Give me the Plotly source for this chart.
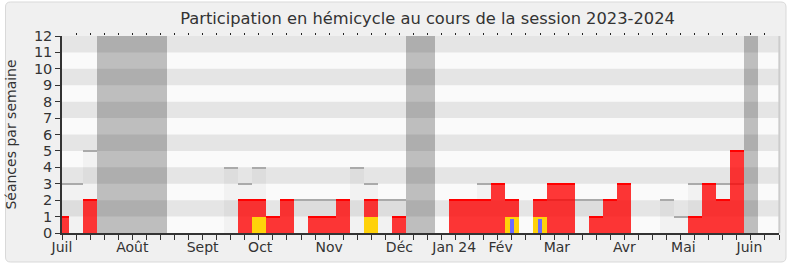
import plotly.graph_objects as go

# ---- data ----
weeks = list(range(52))
# grey bar: weekly sessions (reference level)
total = [3, 3, 5, 0, 0, 0, 0, 0, 0, 0, 0, 0, 4, 3, 4, 1, 2, 2, 2, 2,
         2, 4, 3, 2, 2, 0, 0, 0, 2, 2, 3, 3, 2, 0, 2, 2, 2, 2, 2, 2,
         3, 0, 0, 2, 1, 3, 3, 3, 3, 0, 0, 0]
# red bar: participation
participation = [1, 0, 2, 0, 0, 0, 0, 0, 0, 0, 0, 0, 0, 2, 2, 1, 2, 0, 1, 1,
                 2, 0, 2, 0, 1, 0, 0, 0, 2, 2, 2, 3, 2, 0, 2, 3, 3, 0, 1, 2,
                 3, 0, 0, 0, 0, 1, 3, 2, 5, 0, 0, 0]
yellow_weeks = [14, 22, 32, 34]
yellow_vals = [1, 1, 1, 1]
blue_weeks = [32, 34]
blue_vals = [0.85, 0.85]
vacation_weeks = [3, 4, 5, 6, 7, 25, 26, 49]
month_pos = [0, 5, 10, 14.1, 19, 24, 27.9, 31.2, 35.2, 40, 44.2, 48.9]
month_labels = ["Juil", "Août", "Sept", "Oct", "Nov", "Déc", "Jan 24", "Fév",
                "Mar", "Avr", "Mai", "Juin"]
y_ticks = list(range(13))
Y_MAX = 12

FONT = "DejaVu Sans"
TXT = "#333333"
LINE_T = 0.09  # thickness of top lines in data units

fig = go.Figure()

# vacation bands
fig.add_trace(go.Bar(x=vacation_weeks, y=[Y_MAX] * len(vacation_weeks), width=1,
                     marker=dict(color="rgba(0,0,0,0.24)", line=dict(width=0)),
                     hoverinfo="skip", showlegend=False))

# grey total bars
tw = [w for w, v in zip(weeks, total) if v > 0]
tv = [v for v in total if v > 0]
fig.add_trace(go.Bar(x=tw, y=tv, width=1,
                     marker=dict(color="rgba(0,0,0,0.03)", line=dict(width=0)),
                     showlegend=False))
fig.add_trace(go.Bar(x=tw, y=[LINE_T] * len(tv), base=[v - LINE_T / 2 for v in tv], width=1,
                     marker=dict(color="#aaaaaa", line=dict(width=0)),
                     hoverinfo="skip", showlegend=False))

# red participation bars
pw = [w for w, v in zip(weeks, participation) if v > 0]
pv = [v for v in participation if v > 0]
fig.add_trace(go.Bar(x=pw, y=pv, width=1,
                     marker=dict(color="rgba(255,0,0,0.78)", line=dict(width=0)),
                     showlegend=False))
fig.add_trace(go.Bar(x=pw, y=[LINE_T] * len(pv), base=[v - LINE_T / 2 for v in pv], width=1,
                     marker=dict(color="#ff0000", line=dict(width=0)),
                     hoverinfo="skip", showlegend=False))

# yellow and blue
fig.add_trace(go.Bar(x=yellow_weeks, y=yellow_vals, width=1,
                     marker=dict(color="#ffd20a", line=dict(width=0)), showlegend=False))
fig.add_trace(go.Bar(x=blue_weeks, y=blue_vals, width=0.28,
                     marker=dict(color="#6b6bff", line=dict(width=0)), showlegend=False))

# invisible helper traces so that the overlay axes are drawn
fig.add_trace(go.Scatter(x=[0], y=[0], xaxis="x2", yaxis="y", mode="markers",
                         marker=dict(opacity=0), hoverinfo="skip", showlegend=False))
fig.add_trace(go.Scatter(x=[0], y=[0], xaxis="x3", yaxis="y", mode="markers",
                         marker=dict(opacity=0), hoverinfo="skip", showlegend=False))

# ---- layout ----
L, R, T, B = 62, 11, 36, 34
W, H = 790, 267
pw_px = W - L - R
ph_px = H - T - B


def px_x(px):
    return (px - L) / pw_px


def px_y(py):
    return (H - B - py) / ph_px


# rounded panel
x0, x1 = px_x(5.5), px_x(786)
y0, y1 = px_y(262), px_y(2)
rx, ry = 5 / pw_px, 5 / ph_px
panel_path = (f"M {x0+rx},{y1} L {x1-rx},{y1} Q {x1},{y1} {x1},{y1-ry} "
              f"L {x1},{y0+ry} Q {x1},{y0} {x1-rx},{y0} L {x0+rx},{y0} "
              f"Q {x0},{y0} {x0},{y0+ry} L {x0},{y1-ry} Q {x0},{y1} {x0+rx},{y1} Z")
shapes = [dict(type="path", path=panel_path, xref="paper", yref="paper",
               fillcolor="#f0f0f0", line=dict(color="#d9d9d9", width=1), layer="below"),
          dict(type="rect", xref="paper", yref="paper", x0=0, x1=1, y0=0, y1=1,
               fillcolor="#fafafa", line=dict(width=0), layer="below")]
for k in y_ticks[:-1]:
    if k % 2 == 1:
        shapes.append(dict(type="rect", xref="paper", yref="y", x0=0, x1=1, y0=k, y1=k + 1,
                           fillcolor="#e5e5e5", line=dict(width=0), layer="below"))
shapes.append(dict(type="line", xref="paper", yref="paper", x0=1.0005, x1=1.0005, y0=0, y1=1,
                   line=dict(color="#cccccc", width=2), layer="above"))

fig.update_layout(
    width=W, height=H,
    margin=dict(l=L, r=R, t=T, b=B, pad=0),
    paper_bgcolor="white",
    plot_bgcolor="rgba(0,0,0,0)",
    barmode="overlay",
    bargap=0,
    font=dict(family=FONT, color=TXT, size=14),
    title=dict(text="Participation en hémicycle au cours de la session 2023-2024",
               x=px_x(427.5), xref="paper", xanchor="center",
               y=1 - 18 / H, yref="container", yanchor="middle",
               font=dict(family=FONT, size=16.3, color=TXT)),
    shapes=shapes,
    xaxis=dict(range=[0, 51], tickvals=weeks, showticklabels=False, ticks="outside",
               ticklen=5, tickwidth=1.2, tickcolor="#333333", showline=True,
               linecolor="#333333", linewidth=1.5, showgrid=False, zeroline=False,
               fixedrange=True),
    xaxis2=dict(range=[0, 51], overlaying="x", anchor="y", side="bottom",
                tickvals=month_pos, ticktext=month_labels, ticks="outside", ticklen=1,
                tickcolor="rgba(0,0,0,0)", showline=False, showgrid=False, zeroline=False,
                tickfont=dict(family=FONT, size=14, color=TXT)),
    xaxis3=dict(range=[0, 51], overlaying="x", anchor="y", side="top",
                tickvals=weeks[1:-1], ticks="outside", ticklen=2, tickwidth=1.2,
                tickcolor="#222222", showticklabels=False, showline=False,
                showgrid=False, zeroline=False),
    yaxis=dict(range=[0, Y_MAX], tickvals=y_ticks, ticks="outside", ticklen=5,
               tickwidth=1.2, tickcolor="#333333", showline=True, linecolor="#333333",
               linewidth=1.5, showgrid=False, zeroline=False,
               tickfont=dict(family=FONT, size=14.5, color=TXT),
               title=dict(text="Séances par semaine", standoff=14,
                          font=dict(family=FONT, size=14, color=TXT))),
)

fig.write_html("out.html")
